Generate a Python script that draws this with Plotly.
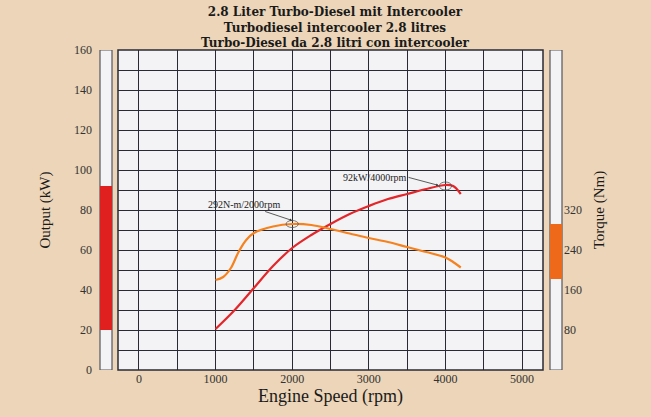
import plotly.graph_objects as go

# ---------------- data ----------------
rpm_power = [1000, 1250, 1500, 1750, 2000, 2250, 2500, 2750, 3000, 3250, 3500, 3750, 4000, 4100, 4200]
power_kw = [20.5, 30, 41, 52, 61, 67.5, 73, 78, 82, 85.5, 88, 90.5, 92.5, 92, 88]

rpm_torque = [1000, 1100, 1200, 1300, 1400, 1500, 1750, 2000, 2250, 2500, 2750, 3000, 3250, 3500, 3750, 4000, 4100, 4200]
torque_nm = [180, 186, 204, 236, 260, 274, 287, 292, 290, 282, 273, 264, 256, 246, 236, 225, 216, 205]

power_band = [20, 92]      # kW, coloured part of left scale bar
torque_band = [182, 292]   # Nm, coloured part of right scale bar

x_ticks = [0, 1000, 2000, 3000, 4000, 5000]
y_ticks = [0, 20, 40, 60, 80, 100, 120, 140, 160]
torque_ticks = [80, 160, 240, 320]

peak_power = (4000, 92)
peak_torque = (2000, 292)

title_lines = ["2.8 Liter Turbo-Diesel mit Intercooler",
               "Turbodiesel intercooler 2.8 litres",
               "Turbo-Diesel da 2.8 litri con intercooler"]

# ---------------- style ----------------
BG = "#ecd5b8"
PLOT_BG = "#f3f3f5"
GRID = "#2a2a35"
RED = "#e3262a"
ORANGE = "#f5821f"
FONT = "Liberation Serif"
TFONT = "DejaVu Serif"

W, H = 651, 417
ML, MR, MT, MB = 92, 88, 50, 47
pw = W - ML - MR
ph = H - MT - MB
def px2dom(px):
    return (px - ML) / pw

xdom = [px2dom(118), px2dom(543)]
lbar = [px2dom(100), px2dom(112)]
rbar = [px2dom(550), px2dom(562)]

grid_x = list(range(0, 5001, 500))
grid_y = list(range(0, 161, 10))

fig = go.Figure()
fig.add_trace(go.Scatter(x=rpm_power, y=power_kw, mode="lines", line=dict(color=RED, width=2.2, shape="spline"),
                         name="Output", showlegend=False, hoverinfo="skip"))
fig.add_trace(go.Scatter(x=rpm_torque, y=torque_nm, mode="lines", line=dict(color=ORANGE, width=2.2, shape="spline"),
                         name="Torque", yaxis="y2", showlegend=False, hoverinfo="skip"))

shapes = []
# plot border
shapes.append(dict(type="rect", xref="paper", yref="paper", x0=xdom[0], x1=xdom[1], y0=0, y1=1,
                   line=dict(color=GRID, width=1.5), layer="above"))
# left scale bar
shapes.append(dict(type="rect", xref="paper", yref="y", x0=lbar[0], x1=lbar[1], y0=0, y1=160,
                   fillcolor=PLOT_BG, line=dict(color="#555560", width=1.2)))
shapes.append(dict(type="rect", xref="paper", yref="y", x0=lbar[0], x1=lbar[1], y0=power_band[0], y1=power_band[1],
                   fillcolor="#e0201e", line=dict(width=0)))
# right scale bar
shapes.append(dict(type="rect", xref="paper", yref="y2", x0=rbar[0], x1=rbar[1], y0=0, y1=640,
                   fillcolor=PLOT_BG, line=dict(color="#555560", width=1.2)))
shapes.append(dict(type="rect", xref="paper", yref="y2", x0=rbar[0], x1=rbar[1], y0=torque_band[0], y1=torque_band[1],
                   fillcolor="#ee6a1a", line=dict(width=0)))
# circles around peaks
shapes.append(dict(type="circle", xref="x", yref="y", x0=peak_power[0] - 80, x1=peak_power[0] + 80,
                   y0=peak_power[1] - 2, y1=peak_power[1] + 2, line=dict(color="#555", width=0.8)))
shapes.append(dict(type="circle", xref="x", yref="y2", x0=peak_torque[0] - 80, x1=peak_torque[0] + 80,
                   y0=peak_torque[1] - 7, y1=peak_torque[1] + 7, line=dict(color="#555", width=0.8)))

annotations = [
    dict(x=px2dom(335), y=1 + (MT - 27) / ph, xref="paper", yref="paper",
         yanchor="middle", xanchor="center", align="center",
         text="<b>" + "<br>".join(title_lines) + "</b>", showarrow=False,
         font=dict(family=TFONT, size=12, color="#1a1a1a")),
    dict(x=peak_power[0] - 90, y=peak_power[1] + 0.3, xref="x", yref="y",
         text=f"{peak_power[1]}kW/{peak_power[0]}rpm", showarrow=True, arrowhead=2, arrowsize=0.6,
         arrowwidth=0.8, arrowcolor="#333", ax=-30, ay=-8, xanchor="right",
         font=dict(family=FONT, size=10, color="#222")),
    dict(x=peak_torque[0], y=peak_torque[1] + 7, xref="x", yref="y2",
         text=f"{peak_torque[1]}N-m/{peak_torque[0]}rpm", showarrow=True, arrowhead=2, arrowsize=0.6,
         arrowwidth=0.8, arrowcolor="#333", ax=-48, ay=-16,
         font=dict(family=FONT, size=10, color="#222")),
]

fig.update_layout(
    width=W, height=H,
    margin=dict(l=ML, r=MR, t=MT, b=MB, pad=0),
    paper_bgcolor=BG, plot_bgcolor=PLOT_BG,
    font=dict(family=FONT, color="#333"),
    showlegend=False,
    shapes=shapes, annotations=annotations,
    xaxis=dict(domain=xdom, range=[-273, 5273], tickvals=grid_x,
               ticktext=[str(v) if v in x_ticks else "" for v in grid_x],
               showgrid=True, gridcolor=GRID, gridwidth=1.2, zeroline=False, ticks="",
               tickfont=dict(family=FONT, size=12, color="#333"),
               title=dict(text="Engine Speed (rpm)", font=dict(family=FONT, size=18, color="#1a1a1a"), standoff=2)),
    yaxis=dict(range=[0, 160], anchor="free", position=0, tickvals=grid_y,
               ticktext=[str(v) if v in y_ticks else "" for v in grid_y],
               showgrid=True, gridcolor=GRID, gridwidth=1.2, zeroline=False, ticks="",
               tickfont=dict(family=FONT, size=12, color="#333"),
               title=dict(text="Output (kW)", font=dict(family=FONT, size=15, color="#1a1a1a"), standoff=18)),
    yaxis2=dict(range=[0, 640], overlaying="y", side="right", anchor="free", position=1,
                tickvals=torque_ticks, showgrid=False, zeroline=False, ticks="",
                tickfont=dict(family=FONT, size=12, color="#333"),
                title=dict(text="Torque (Nm)", font=dict(family=FONT, size=15, color="#1a1a1a"), standoff=12)),
)

fig.write_html("out.html", config={"displayModeBar": False},
               post_script="document.body.style.margin='0';document.body.style.overflow='hidden';")
